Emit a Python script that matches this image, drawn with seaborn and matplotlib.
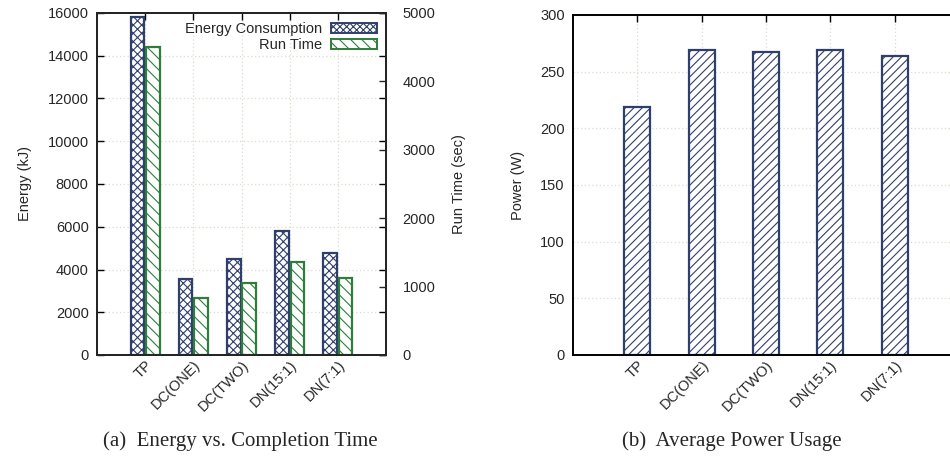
import numpy as np
import pandas as pd
import seaborn as sns
import matplotlib
matplotlib.use("Agg")
from matplotlib import pyplot as plt
from matplotlib.patches import Patch

# data
configs = ["TP", "DC(ONE)", "DC(TWO)", "DN(15:1)", "DN(7:1)"]
energy_kj = [15800, 3560, 4470, 5800, 4760]
run_time_sec = [4500, 830, 1050, 1357, 1123]
power_w = [219, 269, 267, 269, 264]

navy = "#2f3f6b"
green = "#2e7d3a"
grid_col = "#dcdccc"

sns.set_style("white")
plt.rcParams["font.family"] = ["Liberation Sans", "DejaVu Sans"]
plt.rcParams["hatch.linewidth"] = 0.8

fig = plt.figure(figsize=(9.5, 4.59), dpi=100)
ax1 = fig.add_axes([97 / 950, 1 - 355 / 459, 289 / 950, 342 / 459])
ax3 = fig.add_axes([573 / 950, 1 - 355 / 459, 386 / 950, 340 / 459])

series_order = ["Energy Consumption", "Run Time"]
df_long = pd.concat([
    pd.DataFrame({"config": configs, "value": energy_kj, "series": "Energy Consumption"}),
    pd.DataFrame({"config": configs, "value": run_time_sec, "series": "Run Time"}),
])

# left: energy on ax1, run time on twin axis (same dodge, other series hidden)
ax2 = ax1.twinx()
for ax in (ax1, ax2):
    sns.barplot(data=df_long, x="config", y="value", hue="series", hue_order=series_order,
                order=configs, ax=ax, width=0.64, gap=0.12, errorbar=None,
                palette=["white", "white"], legend=False)

n = len(configs)
for i, p in enumerate(ax1.patches):
    if i < n:
        p.set_edgecolor(navy)
        p.set_linewidth(1.6)
        p.set_hatch("xxxx")
    else:
        p.set_visible(False)
for i, p in enumerate(ax2.patches):
    if i >= n:
        p.set_edgecolor(green)
        p.set_linewidth(1.6)
        p.set_hatch("\\\\\\")
    else:
        p.set_visible(False)

ax1.set_xlim(-1, 5)
ax1.set_ylim(0, 16000)
ax2.set_ylim(0, 5000)
ax1.set_yticks(np.arange(0, 16001, 2000))
ax2.set_yticks(np.arange(0, 5001, 1000))
ax1.set_ylabel("Energy (kJ)", fontsize=10.5, labelpad=11)
ax2.set_ylabel("Run Time (sec)", fontsize=10.5, labelpad=12)
ax1.set_xlabel("")
ax2.set_xlabel("")

# right: average power
df_p = pd.DataFrame({"config": configs, "value": power_w})
sns.barplot(data=df_p, x="config", y="value", order=configs, ax=ax3, width=0.4,
            errorbar=None, color="white")
for p in ax3.patches:
    p.set_edgecolor(navy)
    p.set_linewidth(1.6)
    p.set_hatch("////")
ax3.set_xlim(-1, 5)
ax3.set_ylim(0, 300)
ax3.set_yticks(np.arange(0, 301, 50))
ax3.set_ylabel("Power (W)", fontsize=10.5, labelpad=11)
ax3.set_xlabel("")

for ax in (ax1, ax3):
    ax.set_axisbelow(True)
    ax.grid(True, color=grid_col, linestyle=(0, (1, 2)), linewidth=0.9)
    ax.tick_params(axis="both", direction="in", length=5, width=1, labelsize=10.5,
                   top=True, right=True, color="black")
    ax.set_xticks(range(len(configs)))
    ax.set_xticklabels(configs, rotation=45, ha="right", rotation_mode="anchor")
    for s in ax.spines.values():
        s.set_visible(True)
        s.set_color("black")
        s.set_linewidth(1.4)
ax2.tick_params(axis="y", direction="in", length=5, width=1, labelsize=10.5, pad=12)
ax2.grid(False)
for s in ax2.spines.values():
    s.set_linewidth(1.4)
ax1.tick_params(axis="y", pad=6)
ax3.tick_params(axis="y", pad=6)
ax1.tick_params(axis="x", pad=2)
ax3.tick_params(axis="x", pad=2)

handles = [Patch(facecolor="white", edgecolor=navy, hatch="xxxxx", linewidth=1.4),
           Patch(facecolor="white", edgecolor=green, hatch="\\\\\\", linewidth=1.4)]
leg = ax2.legend(handles, series_order, loc="upper right", markerfirst=False,
                 frameon=False, fontsize=10.5, handlelength=3.2, handleheight=0.7,
                 labelspacing=0.15, borderaxespad=0.2, handletextpad=0.6)

fig.text(240 / 950, 1 - 441 / 459, "(a)  Energy vs. Completion Time",
         family="Liberation Serif", fontsize=15, ha="center", va="center")
fig.text(732 / 950, 1 - 441 / 459, "(b)  Average Power Usage",
         family="Liberation Serif", fontsize=15, ha="center", va="center")

fig.savefig("out.png", dpi=100)
